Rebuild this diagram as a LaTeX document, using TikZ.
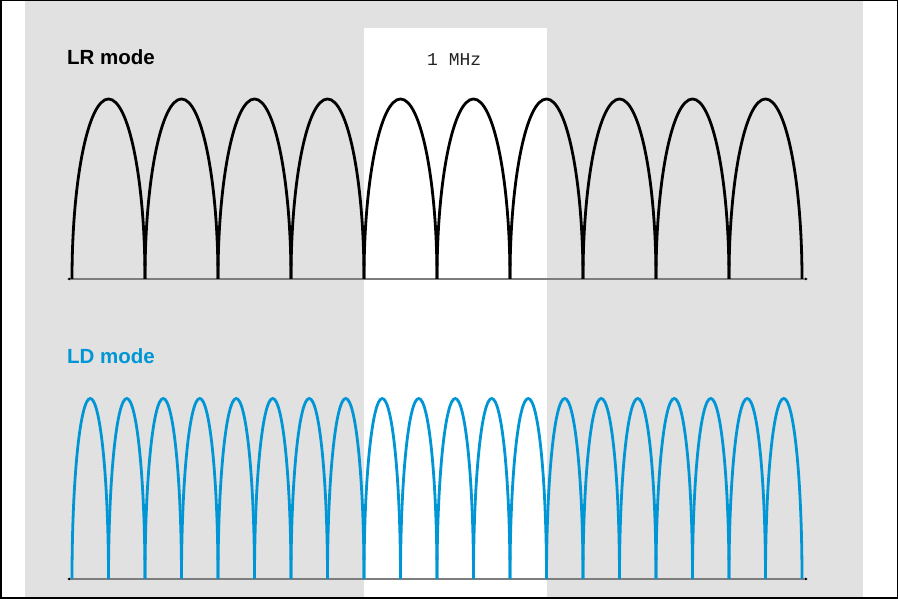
\documentclass[tikz,border=0pt]{standalone}
\usepackage{fontspec}
\setmainfont{Liberation Sans}
\newfontfamily\monofont{Liberation Mono}
\usetikzlibrary{arrows.meta}
\definecolor{bggray}{RGB}{225,225,225}
\definecolor{axisgray}{RGB}{125,125,125}
\definecolor{ldblue}{RGB}{0,150,214}
\definecolor{txtgray}{RGB}{35,35,35}
\tikzset{
  axisline/.style={axisgray, line width=1.3pt, {Latex[length=3pt,width=3pt,black]}-{Latex[length=3pt,width=3pt,black]}},
  lrarch/.style={black, line width=2.8pt},
  ldarch/.style={ldblue, line width=2.8pt},
  title/.style={font=\fontsize{20.5}{24}\selectfont\bfseries, anchor=base west, inner sep=0pt},
  freq/.style={font=\monofont\fontsize{18}{20}\selectfont, text=txtgray, anchor=base west, inner sep=0pt}
}
\begin{document}
\begin{tikzpicture}[x=1pt,y=1pt]
\useasboundingbox (0,0) rectangle (898,599);
\fill[white] (0,0) rectangle (898,599);
\fill[bggray] (25,1.5) rectangle (863,598);
\fill[white] (364,1.5) rectangle (546.5,571);
% axes
\draw[axisline] (67,320) -- (808,320);
\draw[axisline] (67,20) -- (808,20);
% LR arches
\foreach \i in {0,...,9}{
  \draw[lrarch] ({72+73*\i},320) arc[start angle=180, end angle=0, x radius=36.5, y radius=180];
}
% LD arches
\foreach \i in {0,...,19}{
  \draw[ldarch] ({72+36.5*\i},20) arc[start angle=180, end angle=0, x radius=18.25, y radius=180.5];
}
% texts
\node[title] (lr) at (67,534) {LR mode};
\node[title, text=ldblue] (ld) at (67,235) {LD mode};
\node[freq] (mhz) at (427,533) {1 MHz};
% border
\draw[black, line width=1.5pt] (0.75,0.75) rectangle (897.25,598.25);
\end{tikzpicture}
\end{document}
